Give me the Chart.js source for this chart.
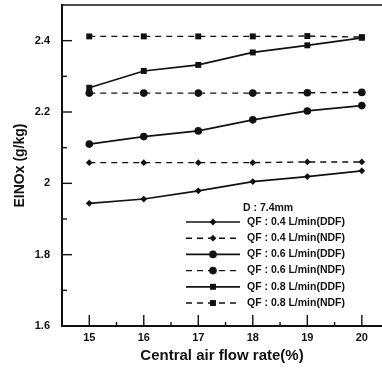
<!DOCTYPE html>
<html>
<head>
<meta charset="utf-8">
<script src="https://cdn.jsdelivr.net/npm/chart.js@4.4.1/dist/chart.umd.min.js"></script>
<style>
  html, body { margin: 0; padding: 0; background: #fff; overflow: hidden; }
  #wrap { width: 382px; height: 368px; }
</style>
</head>
<body>
<div id="wrap"><canvas id="einox" width="382" height="368"></canvas></div>
<script>
const flowRates = [15, 16, 17, 18, 19, 20];
const xTicks = [15, 16, 17, 18, 19, 20];
const yTicks = [1.6, 1.8, 2, 2.2, 2.4];

const ddf04 = [1.944, 1.956, 1.979, 2.005, 2.019, 2.035];
const ndf04 = [2.058, 2.058, 2.058, 2.058, 2.060, 2.060];
const ddf06 = [2.110, 2.131, 2.147, 2.178, 2.203, 2.218];
const ndf06 = [2.253, 2.253, 2.253, 2.253, 2.254, 2.255];
const ddf08 = [2.268, 2.315, 2.332, 2.367, 2.387, 2.408];
const ndf08 = [2.412, 2.412, 2.412, 2.412, 2.413, 2.410];

const seriesLabels = [
    'QF : 0.4 L/min(DDF)', 'QF : 0.4 L/min(NDF)',
    'QF : 0.6 L/min(DDF)', 'QF : 0.6 L/min(NDF)',
    'QF : 0.8 L/min(DDF)', 'QF : 0.8 L/min(NDF)'
];
const legendTitle = 'D : 7.4mm';
const xTitle = 'Central air flow rate(%)';
const yTitle = 'EINOx (g/kg)';

const FONT = '"Liberation Sans", Arial, sans-serif';
const INK = '#111';

const toPoints = vals => vals.map((v, i) => ({ x: flowRates[i], y: v }));

function series(label, vals, dashed, style, radius) {
    return {
        label: label,
        data: toPoints(vals),
        borderColor: INK,
        backgroundColor: INK,
        borderWidth: dashed ? 1.4 : 1.7,
        borderDash: dashed ? [6, 5] : [],
        pointStyle: style,
        pointRadius: radius,
        pointBorderWidth: 0,
        tension: 0
    };
}

// inward ticks, top frame line and the boxed-in legend
const framePlugin = {
    id: 'framePlugin',
    afterDraw(chart) {
        const { ctx, chartArea: a, scales: { x, y } } = chart;
        ctx.save();
        ctx.strokeStyle = INK;
        ctx.lineWidth = 1.5;
        ctx.beginPath();
        ctx.moveTo(a.left, a.top);
        ctx.lineTo(a.right, a.top);
        ctx.stroke();

        ctx.lineWidth = 1.4;
        for (let k = 17; k <= 24; k++) {
            const py = y.getPixelForValue(k / 10);
            const len = k % 2 === 0 ? 10 : 5;
            ctx.beginPath();
            ctx.moveTo(a.left, py);
            ctx.lineTo(a.left + len, py);
            ctx.stroke();
        }
        for (let k = 30; k <= 40; k++) {
            const px = x.getPixelForValue(k / 2);
            const len = k % 2 === 0 ? 11 : 4;
            ctx.beginPath();
            ctx.moveTo(px, a.bottom);
            ctx.lineTo(px, a.bottom - len);
            ctx.stroke();
        }

        // legend
        ctx.fillStyle = INK;
        ctx.textBaseline = 'middle';
        ctx.textAlign = 'left';
        ctx.font = 'bold 10.5px ' + FONT;
        ctx.fillText(legendTitle, 243, 208);
        chart.data.datasets.forEach((d, i) => {
            const ly = 222 + i * 16.2;
            ctx.lineWidth = d.borderWidth;
            ctx.setLineDash(d.borderDash);
            ctx.beginPath();
            ctx.moveTo(186, ly);
            ctx.lineTo(240, ly);
            ctx.stroke();
            ctx.setLineDash([]);
            Chart.helpers.drawPoint(ctx, {
                pointStyle: d.pointStyle, radius: d.pointRadius, rotation: 0, borderWidth: 0
            }, 213, ly);
            ctx.fillText(d.label, 247, ly);
        });
        ctx.restore();
    }
};

new Chart(document.getElementById('einox').getContext('2d'), {
    type: 'line',
    data: {
        datasets: [
            series(seriesLabels[0], ddf04, false, 'rectRot', 3.4),
            series(seriesLabels[1], ndf04, true, 'rectRot', 3.4),
            series(seriesLabels[2], ddf06, false, 'circle', 3.8),
            series(seriesLabels[3], ndf06, true, 'circle', 3.8),
            series(seriesLabels[4], ddf08, false, 'rect', 4.2),
            series(seriesLabels[5], ndf08, true, 'rect', 4.2)
        ]
    },
    options: {
        responsive: false,
        animation: false,
        layout: { autoPadding: false, padding: { top: 5, right: 0, left: 0, bottom: 0 } },
        plugins: { legend: { display: false }, tooltip: { enabled: false } },
        scales: {
            x: {
                type: 'linear',
                min: 14.5,
                max: 20.37,
                afterBuildTicks: s => { s.ticks = xTicks.map(v => ({ value: v })); },
                afterFit: s => { s.height = 42; s.paddingLeft = 0; s.paddingRight = 0; },
                grid: { display: false, drawTicks: false },
                border: { display: true, color: INK, width: 2 },
                ticks: { color: INK, padding: 5, font: { family: FONT, size: 11, weight: 'bold' } },
                title: {
                    display: true, text: xTitle, color: INK,
                    font: { family: FONT, size: 15, weight: 'bold' },
                    padding: { top: 2, bottom: 3 }
                }
            },
            y: {
                type: 'linear',
                min: 1.6,
                max: 2.5,
                afterBuildTicks: s => { s.ticks = yTicks.map(v => ({ value: v })); },
                afterFit: s => { s.width = 62; s.paddingTop = 0; s.paddingBottom = 0; },
                grid: { display: false, drawTicks: false },
                border: { display: true, color: INK, width: 2 },
                ticks: {
                    color: INK, padding: 12,
                    font: { family: FONT, size: 11, weight: 'bold' },
                    callback: v => String(v)
                },
                title: {
                    display: true, text: yTitle, color: INK,
                    font: { family: FONT, size: 14, weight: 'bold' },
                    padding: { top: 12, bottom: 0 }
                }
            }
        }
    },
    plugins: [framePlugin]
});
</script>
</body>
</html>
